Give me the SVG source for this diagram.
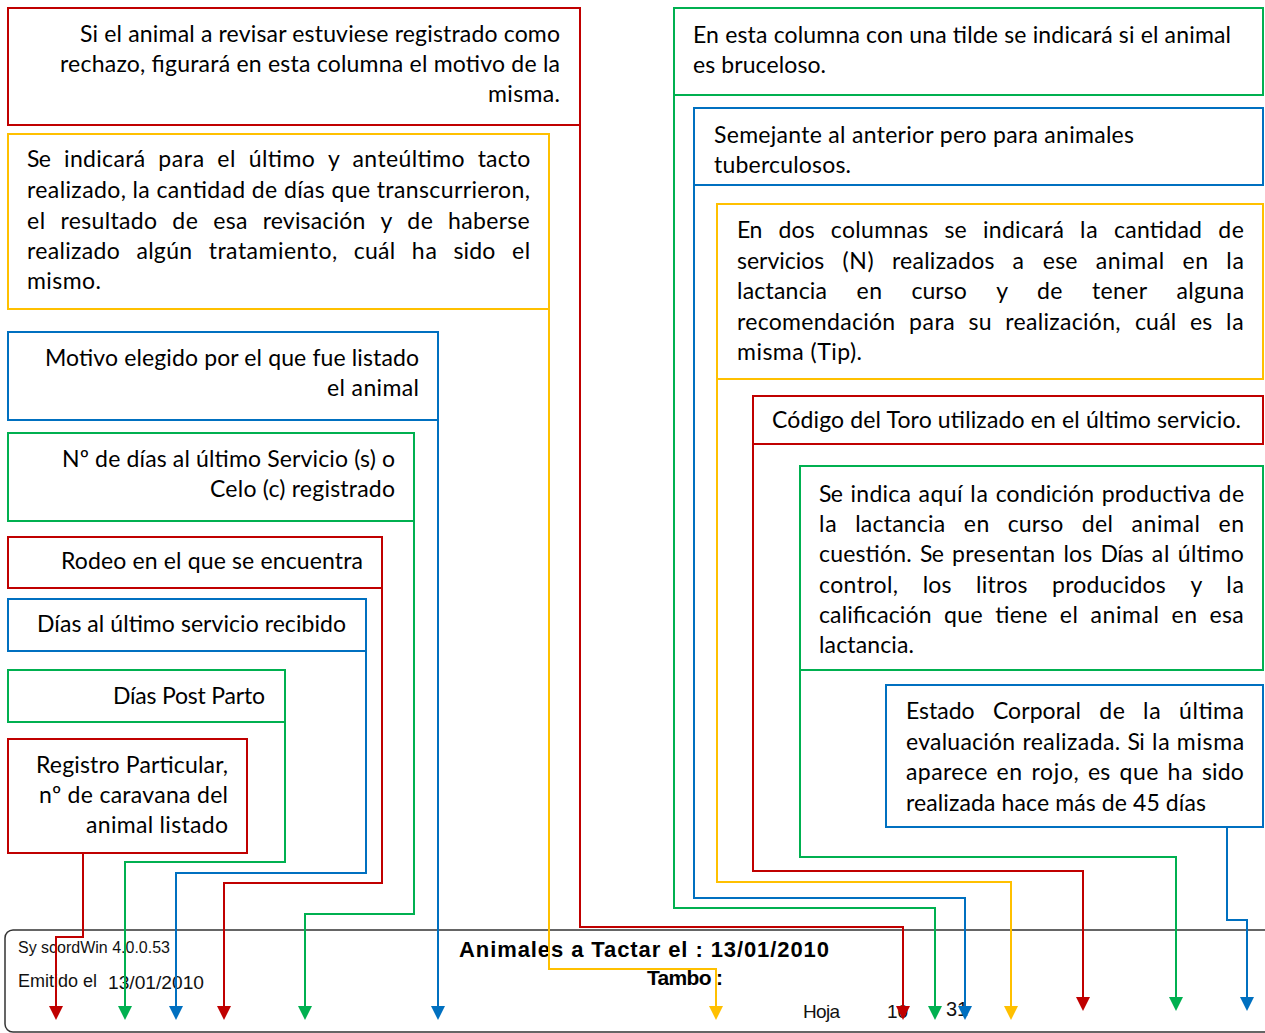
<svg xmlns="http://www.w3.org/2000/svg" width="1265" height="1033" viewBox="0 0 1265 1033">
<style>
.box{fill:#fff;stroke-width:2}
.r{stroke:#C00000}.y{stroke:#FFC000}.b{stroke:#0070C0}.g{stroke:#00B050}
.t{font-family:Lato,"Open Sans",sans-serif;font-size:23px;fill:#000}
.e{text-anchor:end}
.c{fill:none;stroke-width:2;stroke-linejoin:miter}
.h{font-family:"Liberation Sans",Arial,sans-serif;fill:#111}
.hb{font-family:"Liberation Sans",Arial,sans-serif;font-weight:bold;fill:#000}
</style>
<defs>
<marker id="ar" viewBox="0 0 14 14" refX="11" refY="7" markerWidth="14" markerHeight="14" markerUnits="userSpaceOnUse" orient="auto"><path d="M0,0L14,7L0,14z" fill="#C00000"/></marker>
<marker id="ay" viewBox="0 0 14 14" refX="11" refY="7" markerWidth="14" markerHeight="14" markerUnits="userSpaceOnUse" orient="auto"><path d="M0,0L14,7L0,14z" fill="#FFC000"/></marker>
<marker id="ab" viewBox="0 0 14 14" refX="11" refY="7" markerWidth="14" markerHeight="14" markerUnits="userSpaceOnUse" orient="auto"><path d="M0,0L14,7L0,14z" fill="#0070C0"/></marker>
<marker id="ag" viewBox="0 0 14 14" refX="11" refY="7" markerWidth="14" markerHeight="14" markerUnits="userSpaceOnUse" orient="auto"><path d="M0,0L14,7L0,14z" fill="#00B050"/></marker>
</defs>
<rect width="1265" height="1033" fill="#fff"/>
<g id="header">
<rect x="5" y="930" width="1275" height="102" rx="8" fill="none" stroke="#333" stroke-width="1.5"/>
<text class="h" x="18" y="953" font-size="16" textLength="152" lengthAdjust="spacingAndGlyphs">Sy scordWin 4.0.0.53</text>
<text class="h" x="18" y="987" font-size="18" textLength="79" lengthAdjust="spacingAndGlyphs">Emitido el</text>
<text class="h" x="108" y="989" font-size="19" textLength="96" lengthAdjust="spacingAndGlyphs">13/01/2010</text>
<text class="hb" x="459" y="957" font-size="22" textLength="370">Animales a Tactar el : 13/01/2010</text>
<text class="hb" x="647" y="985" font-size="21" textLength="76">Tambo :</text>
<text class="h" x="803" y="1018" font-size="19" textLength="37">Hoja</text>
<text class="h" x="887" y="1018" font-size="19">10</text>
<text class="h" x="946" y="1016" font-size="20">31</text>
</g>
<g id="n1"><rect class="box r" x="8" y="8" width="572" height="117"/>
<text class="t e" x="560" y="42" textLength="480">Si el animal a revisar estuviese registrado como</text>
<text class="t e" x="560" y="72" textLength="500">rechazo, figurará en esta columna el motivo de la</text>
<text class="t e" x="560" y="102" textLength="72">misma.</text></g>
<g id="n2"><rect class="box y" x="8" y="134" width="541" height="175"/>
<text class="t" y="167"><tspan x="27" textLength="23.9">Se</tspan><tspan x="64.1" textLength="81">indicará</tspan><tspan x="158.3" textLength="45.8">para</tspan><tspan x="217.3" textLength="18.2">el</tspan><tspan x="248.7" textLength="66.1">último</tspan><tspan x="328">y</tspan><tspan x="352.5" textLength="112">anteúltimo</tspan><tspan x="477.7" textLength="52.5">tacto</tspan></text>
<text class="t" x="27" y="198" textLength="503">realizado, la cantidad de días que transcurrieron,</text>
<text class="t" y="229"><tspan x="27" textLength="18.2">el</tspan><tspan x="60.5" textLength="96.5">resultado</tspan><tspan x="172.3" textLength="25.6">de</tspan><tspan x="213.2" textLength="34.2">esa</tspan><tspan x="262.7" textLength="102.6">revisación</tspan><tspan x="380.6">y</tspan><tspan x="407.2" textLength="25.6">de</tspan><tspan x="448.1" textLength="81.6">haberse</tspan></text>
<text class="t" y="259"><tspan x="27" textLength="92.8">realizado</tspan><tspan x="136.4" textLength="55.7">algún</tspan><tspan x="208.7" textLength="128.5">tratamiento,</tspan><tspan x="353.8" textLength="41.4">cuál</tspan><tspan x="411.8" textLength="25.1">ha</tspan><tspan x="453.5" textLength="41.8">sido</tspan><tspan x="511.9" textLength="18.2">el</tspan></text>
<text class="t" x="27" y="289" textLength="74">mismo.</text></g>
<g id="n3"><rect class="box b" x="8" y="332" width="430" height="88"/>
<text class="t e" x="419" y="366" textLength="374">Motivo elegido por el que fue listado</text>
<text class="t e" x="419" y="396" textLength="92">el animal</text></g>
<g id="n4"><rect class="box g" x="8" y="433" width="406" height="88"/>
<text class="t e" x="395" y="467" textLength="333">Nº de días al último Servicio (s) o</text>
<text class="t e" x="395" y="497" textLength="185">Celo (c) registrado</text></g>
<g id="n5"><rect class="box r" x="8" y="537" width="374" height="51"/>
<text class="t" x="61" y="569" textLength="302">Rodeo en el que se encuentra</text></g>
<g id="n6"><rect class="box b" x="8" y="599" width="358" height="52"/>
<text class="t" x="37" y="632" textLength="309">Días al último servicio recibido</text></g>
<g id="n7"><rect class="box g" x="8" y="670" width="277" height="52"/>
<text class="t" x="113" y="704" textLength="152">Días Post Parto</text></g>
<g id="n8"><rect class="box r" x="8" y="739" width="239" height="114"/>
<text class="t e" x="228" y="773" textLength="192">Registro Particular,</text>
<text class="t e" x="228" y="803" textLength="189">nº de caravana del</text>
<text class="t e" x="228" y="833" textLength="142">animal listado</text></g>
<g id="m1"><rect class="box g" x="674" y="8" width="589" height="87"/>
<text class="t" x="693" y="43" textLength="538">En esta columna con una tilde se indicará si el animal</text>
<text class="t" x="693" y="73" textLength="133">es bruceloso.</text></g>
<g id="m2"><rect class="box b" x="694" y="108" width="569" height="77"/>
<text class="t" x="714" y="143" textLength="420">Semejante al anterior pero para animales</text>
<text class="t" x="714" y="173" textLength="137">tuberculosos.</text></g>
<g id="m3"><rect class="box y" x="717" y="204" width="546" height="175"/>
<text class="t" y="238"><tspan x="737" textLength="25.3">En</tspan><tspan x="778.5" textLength="36.1">dos</tspan><tspan x="830.8" textLength="97.5">columnas</tspan><tspan x="944.5" textLength="22.2">se</tspan><tspan x="982.9" textLength="81">indicará</tspan><tspan x="1080.1" textLength="17.7">la</tspan><tspan x="1114" textLength="88">cantidad</tspan><tspan x="1218.2" textLength="25.6">de</tspan></text>
<text class="t" y="269"><tspan x="737" textLength="87.2">servicios</tspan><tspan x="842.4" textLength="31.3">(N)</tspan><tspan x="891.9" textLength="102.5">realizados</tspan><tspan x="1012.6">a</tspan><tspan x="1042.8" textLength="34.7">ese</tspan><tspan x="1095.7" textLength="68.5">animal</tspan><tspan x="1182.4" textLength="25.6">en</tspan><tspan x="1226.2" textLength="17.7">la</tspan></text>
<text class="t" y="299"><tspan x="737" textLength="90">lactancia</tspan><tspan x="856.4" textLength="25.6">en</tspan><tspan x="911.4" textLength="55.4">curso</tspan><tspan x="996.2">y</tspan><tspan x="1036.9" textLength="25.6">de</tspan><tspan x="1091.9" textLength="55.1">tener</tspan><tspan x="1176.4" textLength="67.7">alguna</tspan></text>
<text class="t" y="330"><tspan x="737" textLength="158.2">recomendación</tspan><tspan x="909" textLength="45.8">para</tspan><tspan x="968.6" textLength="22.9">su</tspan><tspan x="1005.3" textLength="115.3">realización,</tspan><tspan x="1134.9" textLength="41.4">cuál</tspan><tspan x="1190.1" textLength="22.2">es</tspan><tspan x="1226.1" textLength="17.7">la</tspan></text>
<text class="t" x="737" y="360" textLength="125">misma (Tip).</text></g>
<g id="m4"><rect class="box r" x="753" y="396" width="510" height="48"/>
<text class="t" x="772" y="428" textLength="469">Código del Toro utilizado en el último servicio.</text></g>
<g id="m5"><rect class="box g" x="800" y="466" width="463" height="204"/>
<text class="t" y="502"><tspan x="819" textLength="23.9">Se</tspan><tspan x="850.6" textLength="60.3">indica</tspan><tspan x="918.6" textLength="44">aquí</tspan><tspan x="970.3" textLength="17.7">la</tspan><tspan x="995.7" textLength="98.3">condición</tspan><tspan x="1101.7" textLength="109.2">productiva</tspan><tspan x="1218.6" textLength="25.6">de</tspan></text>
<text class="t" y="532"><tspan x="819" textLength="17.7">la</tspan><tspan x="855.2" textLength="90">lactancia</tspan><tspan x="963.7" textLength="25.6">en</tspan><tspan x="1007.8" textLength="55.4">curso</tspan><tspan x="1081.7" textLength="31.3">del</tspan><tspan x="1131.5" textLength="68.5">animal</tspan><tspan x="1218.5" textLength="25.6">en</tspan></text>
<text class="t" y="562"><tspan x="819" textLength="92.6">cuestión.</tspan><tspan x="919.9" textLength="23.9">Se</tspan><tspan x="952.1" textLength="103.1">presentan</tspan><tspan x="1063.5" textLength="28.7">los</tspan><tspan x="1100.5" textLength="42.9">Días</tspan><tspan x="1151.7" textLength="17.7">al</tspan><tspan x="1177.7" textLength="66.1">último</tspan></text>
<text class="t" y="593"><tspan x="819" textLength="79.1">control,</tspan><tspan x="922.7" textLength="28.7">los</tspan><tspan x="976" textLength="51.5">litros</tspan><tspan x="1052.1" textLength="113.7">producidos</tspan><tspan x="1190.4">y</tspan><tspan x="1226.3" textLength="17.7">la</tspan></text>
<text class="t" y="623"><tspan x="819" textLength="112.5">calificación</tspan><tspan x="944" textLength="38.7">que</tspan><tspan x="995.2" textLength="52.1">tiene</tspan><tspan x="1059.8" textLength="18.2">el</tspan><tspan x="1090.5" textLength="68.5">animal</tspan><tspan x="1171.5" textLength="25.6">en</tspan><tspan x="1209.6" textLength="34.2">esa</tspan></text>
<text class="t" x="819" y="653" textLength="95">lactancia.</text></g>
<g id="m6"><rect class="box b" x="886" y="685" width="377" height="142"/>
<text class="t" y="719"><tspan x="906" textLength="68.6">Estado</tspan><tspan x="992.9" textLength="88">Corporal</tspan><tspan x="1099.2" textLength="25.6">de</tspan><tspan x="1143.1" textLength="17.7">la</tspan><tspan x="1179.1" textLength="64.9">última</tspan></text>
<text class="t" y="750"><tspan x="906" textLength="109.2">evaluación</tspan><tspan x="1022.4" textLength="97.9">realizada.</tspan><tspan x="1127.5" textLength="17.2">Si</tspan><tspan x="1151.9" textLength="17.7">la</tspan><tspan x="1176.8" textLength="67.4">misma</tspan></text>
<text class="t" y="780"><tspan x="906" textLength="81.3">aparece</tspan><tspan x="996.6" textLength="25.6">en</tspan><tspan x="1031.5" textLength="47.3">rojo,</tspan><tspan x="1088.1" textLength="22.2">es</tspan><tspan x="1119.6" textLength="38.7">que</tspan><tspan x="1167.6" textLength="25.1">ha</tspan><tspan x="1202" textLength="41.8">sido</tspan></text>
<text class="t" x="906" y="811" textLength="300">realizada hace más de 45 días</text></g>
<g id="connectors">
<path class="c r" d="M580,125V927H903V1017" marker-end="url(#ar)"/>
<path class="c y" d="M549,309V969H716V1017" marker-end="url(#ay)"/>
<path class="c b" d="M438,420V1017" marker-end="url(#ab)"/>
<path class="c g" d="M414,521V914H305V1017" marker-end="url(#ag)"/>
<path class="c r" d="M382,588V883H224V1017" marker-end="url(#ar)"/>
<path class="c b" d="M366,651V873H176V1017" marker-end="url(#ab)"/>
<path class="c g" d="M285,722V862H125V1017" marker-end="url(#ag)"/>
<path class="c r" d="M83,853V937H56V1017" marker-end="url(#ar)"/>
<path class="c g" d="M674,95V908H935V1017" marker-end="url(#ag)"/>
<path class="c b" d="M694,185V898H965V1017" marker-end="url(#ab)"/>
<path class="c y" d="M717,379V882H1011V1017" marker-end="url(#ay)"/>
<path class="c r" d="M753,444V871H1083V1008" marker-end="url(#ar)"/>
<path class="c g" d="M800,670V857H1176V1008" marker-end="url(#ag)"/>
<path class="c b" d="M1227,827V920H1247V1008" marker-end="url(#ab)"/>
</g>
</svg>
